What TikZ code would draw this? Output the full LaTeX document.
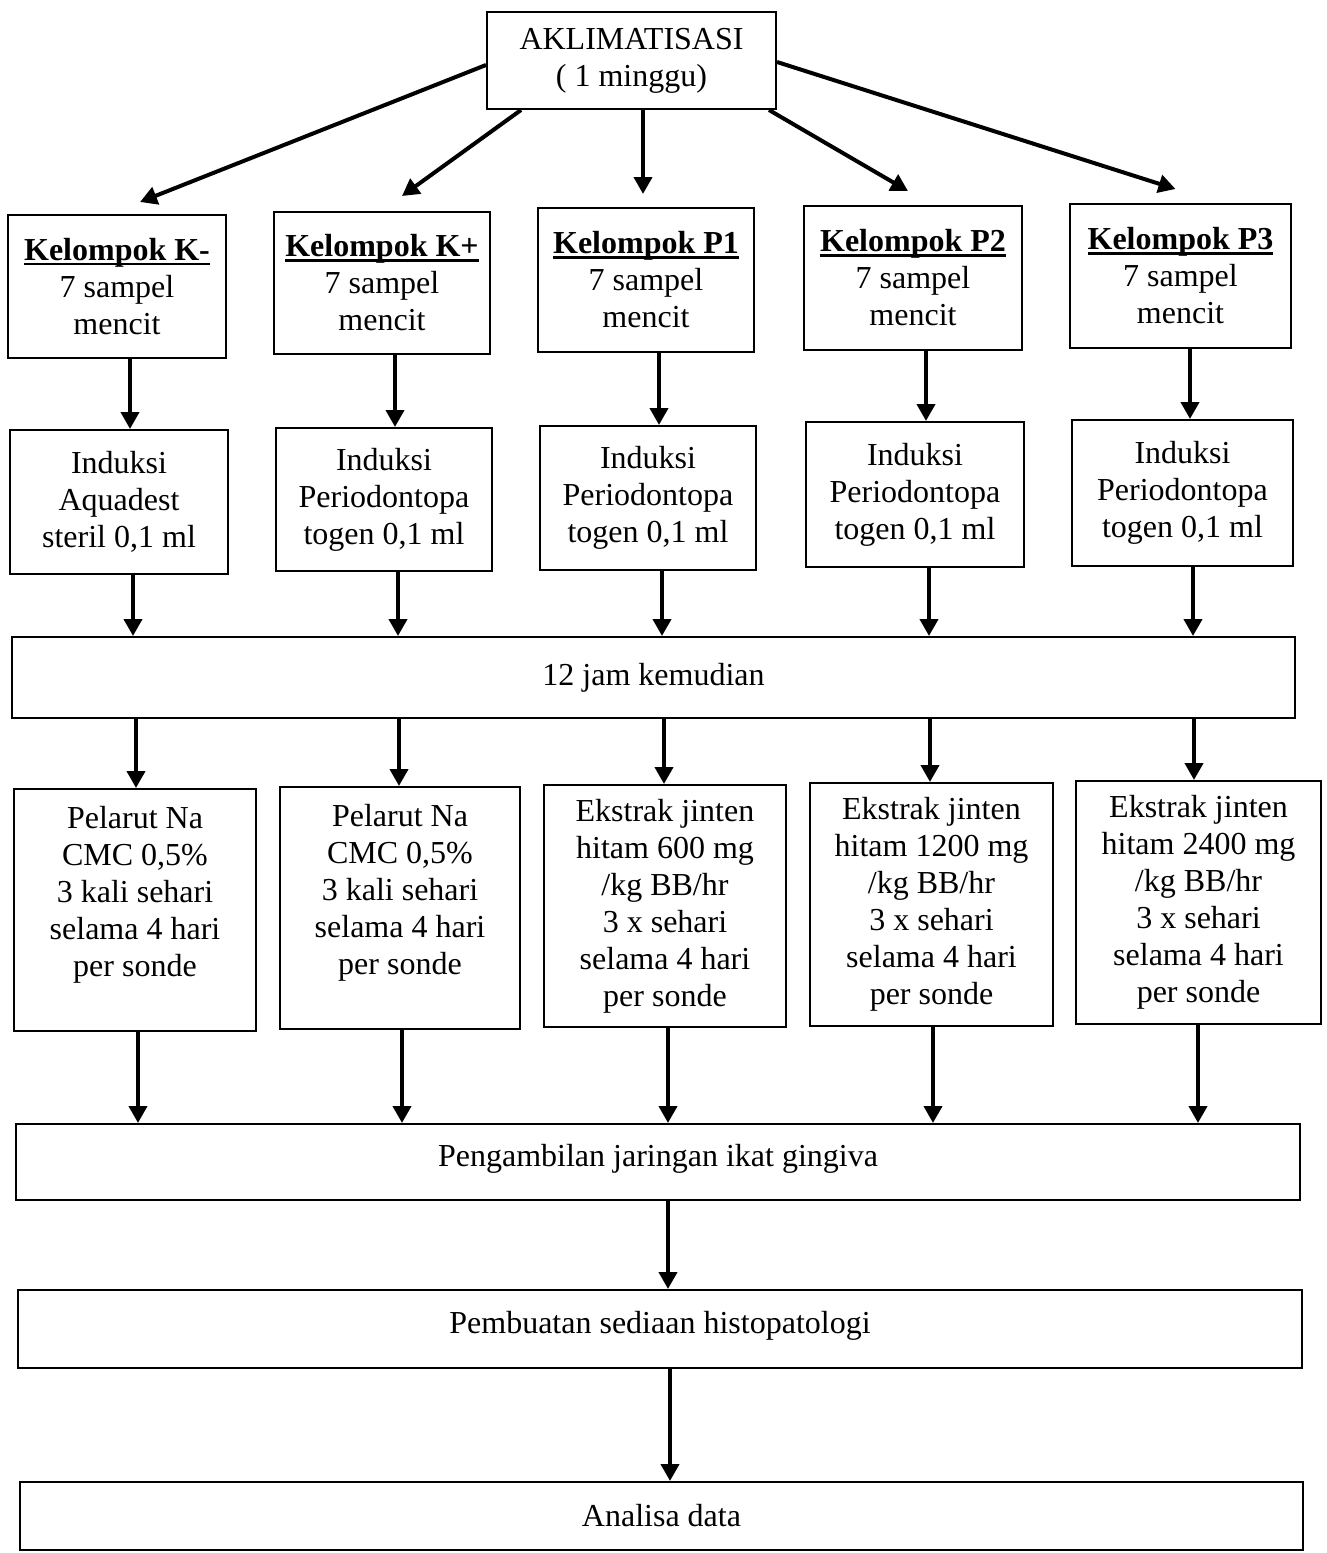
\documentclass[tikz,border=0pt]{standalone}
\usepackage{fontspec}
\setmainfont{Liberation Serif}
\usetikzlibrary{arrows.meta}
\newcommand{\kelp}[1]{\setbox0\hbox{\textbf{#1}}\rlap{\rule[-5pt]{\wd0}{2.6pt}}\box0}
\begin{document}
\begin{tikzpicture}[x=1pt,y=-1pt,
  box/.style={draw,line width=2pt,inner sep=0pt,align=center,font=\fontsize{32}{37}\selectfont},
  arr/.style={line width=4pt,-{Triangle[length=17pt,width=18pt]}}]
\useasboundingbox[fill=white] (0,0) rectangle (1326,1553);
% top
\node[box,minimum width=289pt,minimum height=97pt] (A) at (631.5,60.5) {AKLIMATISASI\\( 1 minggu)};
% groups
\node[box,minimum width=218pt,minimum height=143pt] (K1) at (117,286.5) {\kelp{Kelompok K-}\\7 sampel\\mencit};
\node[box,minimum width=216pt,minimum height=142pt] (K2) at (382,283) {\kelp{Kelompok K+}\\7 sampel\\mencit};
\node[box,minimum width=216pt,minimum height=144pt] (K3) at (646,280) {\kelp{Kelompok P1}\\7 sampel\\mencit};
\node[box,minimum width=218pt,minimum height=144pt] (K4) at (913,278) {\kelp{Kelompok P2}\\7 sampel\\mencit};
\node[box,minimum width=221pt,minimum height=144pt] (K5) at (1180.5,276) {\kelp{Kelompok P3}\\7 sampel\\mencit};
% induction
\node[box,minimum width=218pt,minimum height=144pt] (I1) at (119,502) {Induksi\\Aquadest\\steril 0,1 ml};
\node[box,minimum width=216pt,minimum height=143pt] (I2) at (384,499.5) {Induksi\\Periodontopa\\togen 0,1 ml};
\node[box,minimum width=216pt,minimum height=144pt] (I3) at (648,498) {Induksi\\Periodontopa\\togen 0,1 ml};
\node[box,minimum width=218pt,minimum height=145pt] (I4) at (915,494.5) {Induksi\\Periodontopa\\togen 0,1 ml};
\node[box,minimum width=221pt,minimum height=146pt] (I5) at (1182.5,493) {Induksi\\Periodontopa\\togen 0,1 ml};
% 12 jam
\node[box,minimum width=1283pt,minimum height=81pt] (J) at (653.5,677.5) {12 jam kemudian};
% treatment
\node[box,minimum width=242pt,minimum height=242pt] (T1) at (135,910) {Pelarut Na\\CMC 0,5\%\\3 kali sehari\\selama 4 hari\\per sonde\\\mbox{}};
\node[box,minimum width=240pt,minimum height=242pt] (T2) at (400,908) {Pelarut Na\\CMC 0,5\%\\3 kali sehari\\selama 4 hari\\per sonde\\\mbox{}};
\node[box,minimum width=242pt,minimum height=242pt] (T3) at (665,906) {Ekstrak jinten\\hitam 600 mg\\/kg BB/hr\\3 x sehari\\selama 4 hari\\per sonde};
\node[box,minimum width=243pt,minimum height=243pt] (T4) at (931.5,904.5) {Ekstrak jinten\\hitam 1200 mg\\/kg BB/hr\\3 x sehari\\selama 4 hari\\per sonde};
\node[box,minimum width=245pt,minimum height=243pt] (T5) at (1198.5,902.5) {Ekstrak jinten\\hitam 2400 mg\\/kg BB/hr\\3 x sehari\\selama 4 hari\\per sonde};
% bottom
\node[box,minimum width=1284pt,minimum height=76pt,text depth=14pt] (G) at (658,1162) {Pengambilan jaringan ikat gingiva};
\node[box,minimum width=1284pt,minimum height=78pt,text depth=14pt] (H) at (660,1329) {Pembuatan sediaan histopatologi};
\node[box,minimum width=1283pt,minimum height=68pt] (D) at (661.5,1516) {Analisa data};
% arrows from top
\draw[arr] ([yshift=-4.5pt]A.west) -- ([xshift=23pt,yshift=12pt]K1.north);
\draw[arr] ([xshift=35pt]A.south west) -- ([xshift=20pt,yshift=15pt]K2.north);
\draw[arr] ([xshift=11.5pt]A.south) -- ([xshift=-3pt,yshift=13pt]K3.north);
\draw[arr] ([xshift=-8pt]A.south east) -- ([xshift=-5pt,yshift=14pt]K4.north);
\draw[arr] ([yshift=-1.5pt]A.east) -- ([xshift=-5pt,yshift=14pt]K5.north);
% column coordinates
\foreach \i/\a/\b/\c/\d in {1/130/133/136/138, 2/395/398/399/402, 3/659/662/664/668, 4/926/929/930/933, 5/1190/1193/1194/1198}{
  \coordinate (ca\i) at (\a,0);
  \coordinate (cb\i) at (\b,0);
  \coordinate (cc\i) at (\c,0);
  \coordinate (cd\i) at (\d,0);
}
\foreach \i in {1,...,5}{
  \draw[arr] (K\i.south -| ca\i) -- (I\i.north -| ca\i);
  \draw[arr] (I\i.south -| cb\i) -- (J.north -| cb\i);
  \draw[arr] (J.south -| cc\i) -- (T\i.north -| cc\i);
  \draw[arr] (T\i.south -| cd\i) -- (G.north -| cd\i);
}
\coordinate (ce) at (668,0);
\coordinate (cf) at (670,0);
\draw[arr] (G.south -| ce) -- (H.north -| ce);
\draw[arr] (H.south -| cf) -- (D.north -| cf);
\end{tikzpicture}
\end{document}
